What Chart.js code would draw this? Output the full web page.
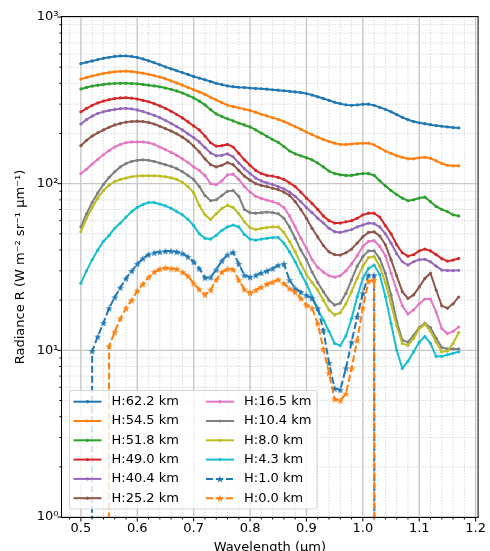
<!DOCTYPE html>
<html>
<head>
<meta charset="utf-8">
<script src="https://cdn.jsdelivr.net/npm/chart.js@4.4.1/dist/chart.umd.min.js"></script>
<style>
  html, body { margin: 0; padding: 0; background: #fff; }
</style>
</head>
<body>
<canvas id="myChart" width="490" height="551"></canvas>
<script>
(() => {

  // values below the axis: matplotlib clips them, the line drops straight down
  const CLIP = 1e-30;

  const wavelengths = [
    0.50, 0.51, 0.52, 0.53, 0.54, 0.55, 0.56, 0.57, 0.58, 0.59,
    0.60, 0.61, 0.62, 0.63, 0.64, 0.65, 0.66, 0.67, 0.68, 0.69,
    0.70, 0.71, 0.72, 0.73, 0.74, 0.75, 0.76, 0.77, 0.78, 0.79,
    0.80, 0.81, 0.82, 0.83, 0.84, 0.85, 0.86, 0.87, 0.88, 0.89,
    0.90, 0.91, 0.92, 0.93, 0.94, 0.95, 0.96, 0.97, 0.98, 0.99,
    1.00, 1.01, 1.02, 1.03, 1.04, 1.05, 1.06, 1.07, 1.08, 1.09,
    1.10, 1.11, 1.12, 1.13, 1.14, 1.15, 1.16, 1.17
  ];

  const heightLabels = ['H:62.2 km', 'H:54.5 km', 'H:51.8 km', 'H:49.0 km', 'H:40.4 km', 'H:25.2 km',
    'H:16.5 km', 'H:10.4 km', 'H:8.0 km', 'H:4.3 km', 'H:1.0 km', 'H:0.0 km'];

  const rad62_2 = [
    525, 535, 545, 555, 565, 573, 580, 584, 584, 580,
    572, 560, 546, 532, 517, 502, 489, 476, 464, 452,
    440, 430, 420, 410, 400, 393, 386, 382, 379, 377,
    375, 373, 371, 369, 366, 364, 361, 358, 355, 352,
    347, 340, 332, 324, 316, 308, 302, 297, 295, 297,
    300, 300, 295, 287, 279, 270, 260, 250, 242, 236,
    232, 229, 226, 223, 221, 219, 217, 216
  ];
  const rad54_5 = [
    424, 434, 443, 451, 458, 464, 469, 472, 473, 471,
    466, 460, 453, 445, 436, 426, 414, 402, 390, 378,
    366, 355, 343, 330, 318, 306, 296, 290, 285, 280,
    275, 268, 261, 255, 249, 243, 236, 228, 220, 212,
    204, 197, 190, 184, 179, 175, 172, 172, 173, 174,
    175, 175, 171, 164, 157, 152, 147, 144, 141, 141,
    143, 144, 142, 137, 132, 129, 128, 128
  ];
  const rad51_8 = [
    370, 378, 385, 390, 394, 397, 399, 400, 400, 399,
    397, 394, 390, 386, 381, 375, 368, 360, 350, 339,
    327, 313, 297, 278, 262, 253, 245, 238, 231, 225,
    219, 210, 201, 192, 184, 177, 167, 157, 151, 147,
    143, 139, 133, 126, 119, 115, 113, 112, 112, 114,
    115, 115, 112, 104, 97, 91, 86, 82, 79, 80,
    82, 83, 78, 73, 70, 68, 65, 64
  ];
  const rad49_0 = [
    270, 283, 295, 305, 313, 319, 324, 327, 328, 326,
    322, 316, 310, 302, 293, 283, 272, 260, 248, 235,
    222, 210, 193, 176, 168, 169, 172, 166, 152, 139,
    129, 120, 115, 112, 111, 109, 106, 101, 96, 89,
    82, 76, 70, 64, 60, 58, 58, 59, 60, 62,
    65, 66.5, 66.5, 63, 56, 50, 43, 38.5, 36.7, 37.5,
    39.5, 40.5, 39.5, 37.5, 35.5, 34.3, 34.8, 35.6
  ];
  const rad40_4 = [
    228, 242, 254, 264, 270, 275, 279, 282, 283, 281,
    277, 271, 264, 257, 249, 240, 230, 220, 210, 199,
    189, 178, 165, 153, 147, 148, 151, 145, 133, 123,
    115, 108, 104, 101, 99, 96, 93, 89, 84, 78,
    72, 67, 62, 58, 54, 51.5, 51, 52, 53, 55,
    56.5, 58, 57.5, 55, 50, 44, 38, 34, 32.5, 34,
    35, 35.2, 34, 32, 30.3, 30.1, 30.1, 30.2
  ];
  const rad25_2 = [
    169, 182, 193, 202, 210, 218, 225, 230, 234, 236,
    237, 236, 233, 228, 221, 214, 207, 199, 190, 180,
    168, 155, 141, 130, 126, 129, 134, 130, 120, 111,
    105, 100, 97.5, 96, 94, 92, 89, 85, 78, 70,
    62, 54, 47.9, 42.5, 39, 37.5, 37.3, 38.5, 40.5, 44,
    48, 51, 51.4, 48.5, 43, 35, 28, 22.5, 20.5, 21.5,
    24, 27, 29, 23, 18.5, 17.9, 19, 20.9
  ];
  const rad16_5 = [
    115, 122, 131, 140, 149, 158, 166, 172, 176, 178,
    178, 178, 176, 172, 166, 160, 154, 148, 141, 134,
    126, 120, 112, 100, 98.5, 104, 113, 114, 106, 96,
    89, 84, 81.5, 79.5, 78, 76, 72, 64, 55, 47,
    41, 35, 31.5, 29.5, 28, 27.5, 28, 30, 33, 37,
    42, 45, 45.5, 42, 37, 29, 23, 18.5, 16.5, 17.5,
    19, 20.3, 20.3, 17, 13.5, 12.6, 13, 13.8
  ];
  const rad10_4 = [
    55, 66, 77, 88, 99, 109, 118, 126, 132, 136,
    138, 139, 138, 136, 133, 130, 127, 123, 118, 112,
    106, 96, 85, 79, 80, 85, 90, 91, 84, 70,
    67, 66.5, 67, 67.5, 67, 66, 62, 55, 47, 40,
    35, 29.5, 25.5, 22.5, 20, 18.7, 19.2, 22, 26.5, 32,
    36.5, 39.5, 39.5, 35.5, 29, 21.5, 15, 11.5, 11.2, 12.3,
    13.7, 14.5, 13.7, 11.8, 10.4, 10.2, 10.2, 10.2
  ];
  const rad8_0 = [
    51.5, 62, 72, 82, 91, 98, 103, 106, 108, 110,
    111, 111.5, 111.5, 111.5, 111, 110, 108.5, 106, 102, 96,
    88, 74, 65, 61, 66, 71, 74, 72, 66, 59,
    54.5, 53, 54, 54.5, 55, 55, 51, 45, 39, 33,
    28.5, 25.5, 23, 20, 17.5, 16.3, 16.8, 19, 22.5, 27,
    32, 36, 36.5, 32, 25.5, 19, 14, 11, 10.7, 11.8,
    13.5, 14.3, 13, 11.2, 9.8, 9.9, 11, 12.8
  ];
  const rad4_3 = [
    25.3, 30, 35, 40, 45, 49, 54, 58, 63, 68,
    72, 75, 77, 77, 75.5, 73.5, 71, 68, 65, 61,
    56, 50, 47, 46.5, 49, 52.5, 55, 56.5, 55, 49.5,
    46.5, 45.8, 46.5, 47, 47.5, 47.5, 44, 39, 34, 29,
    25, 21, 17.5, 15.2, 13, 11, 10.7, 12.2, 15.5, 21,
    27, 31, 32.5, 28.5, 21, 14.5, 10, 7.8, 8.6, 9.8,
    11.2, 12.1, 11, 9.2, 9.2, 9.4, 9.6, 9.8
  ];
  const rad1_0 = [
    CLIP, CLIP, 9.9, 12.1, 14.6, 17.9, 20.8, 23.8, 27, 29.9,
    33, 35.6, 37.6, 38.5, 39, 39.4, 39.4, 39, 38.2, 36.4,
    34, 31, 27.3, 27.4, 30.5, 34.5, 37.5, 38.8, 33, 28.2,
    27.5, 28.2, 29.2, 30, 31, 32.4, 33, 26.4, 23.5, 22.4,
    21.4, 20.5, 17.9, 13.2, 8.4, 5.9, 5.8, 7.8, 11.2, 15.9,
    22, 28.2, 28.2, CLIP, CLIP, CLIP, CLIP, CLIP, CLIP, CLIP,
    CLIP, CLIP, CLIP, CLIP, CLIP, CLIP, CLIP, CLIP
  ];
  const rad0_0 = [
    CLIP, CLIP, CLIP, CLIP, CLIP, 10.6, 12.9, 15.5, 17.9, 20,
    22.8, 25, 27.4, 29.5, 30.8, 31.3, 31, 30.8, 29.5, 27.9,
    25.2, 23.2, 21.6, 23, 26.5, 29.5, 30.8, 30.6, 26.4, 23.2,
    22.1, 23, 24, 25, 25.7, 26.6, 25.2, 23.5, 22.3, 20.5,
    18.7, 17.9, 14.5, 10.2, 7.3, 5.1, 5.0, 5.5, 7.8, 11.5,
    18, 26, 26.4, CLIP, CLIP, CLIP, CLIP, CLIP, CLIP, CLIP,
    CLIP, CLIP, CLIP, CLIP, CLIP, CLIP, CLIP, CLIP
  ];

  const xTicks = [0.5, 0.6, 0.7, 0.8, 0.9, 1.0, 1.1, 1.2];
  const xTickLabels = ['0.5', '0.6', '0.7', '0.8', '0.9', '1.0', '1.1', '1.2'];
  const yTicks = [1, 10, 100, 1000];
  const yTickLabels = ['10\u2070', '10\u00B9', '10\u00B2', '10\u00B3'];

  const series = [rad62_2, rad54_5, rad51_8, rad49_0, rad40_4, rad25_2,
    rad16_5, rad10_4, rad8_0, rad4_3, rad1_0, rad0_0];
  const colors = ['#1f77b4', '#ff7f0e', '#2ca02c', '#d62728', '#9467bd', '#8c564b',
    '#e377c2', '#7f7f7f', '#bcbd22', '#17becf', '#1f77b4', '#ff7f0e'];
  const dashed = [false, false, false, false, false, false, false, false, false, false, true, true];

  const FONT = 'DejaVu Sans';
  Chart.defaults.font.family = FONT;
  Chart.defaults.font.size = 13;
  Chart.defaults.color = '#000';

  // filled five point star, like matplotlib's '*' marker
  const makeStar = (color) => {
    const c = document.createElement('canvas');
    c.width = 10; c.height = 10;
    const g = c.getContext('2d');
    g.fillStyle = color;
    g.beginPath();
    for (let i = 0; i < 10; i++) {
      const r = i % 2 ? 1.5 : 3.9;
      const a = -Math.PI / 2 + i * Math.PI / 5;
      const px = 5 + r * Math.cos(a), py = 5.4 + r * Math.sin(a);
      if (i) g.lineTo(px, py); else g.moveTo(px, py);
    }
    g.closePath();
    g.fill();
    return c;
  };

  const datasets = series.map((vals, i) => ({
    label: heightLabels[i],
    data: vals.map((v, j) => ({ x: wavelengths[j], y: v })),
    borderColor: colors[i],
    backgroundColor: colors[i],
    borderWidth: 2,
    borderDash: dashed[i] ? [7, 3] : [],
    pointStyle: dashed[i] ? makeStar(colors[i]) : 'circle',
    pointRadius: dashed[i] ? 4 : 1.6,
    pointBorderWidth: 0,
    pointBackgroundColor: colors[i],
    order: series.length - i,
    clip: 0
  }));

  // minor tick positions
  const xMinor = [];
  for (let k = 24; k <= 60; k++) if (k % 5) xMinor.push(k / 50);
  const yMinor = [];
  [1, 10, 100].forEach(d => { for (let m = 2; m <= 9; m++) yMinor.push(m * d); });

  const axesDecor = {
    id: 'axesDecor',
    beforeDatasetsDraw(chart) {
      const { ctx, chartArea: a, scales: { x, y } } = chart;
      ctx.save();
      ctx.lineWidth = 0.8;
      ctx.strokeStyle = '#cfcfcf';
      ctx.setLineDash([1.5, 1.5]);
      ctx.beginPath();
      xMinor.forEach(v => { const p = x.getPixelForValue(v); ctx.moveTo(p, a.top); ctx.lineTo(p, a.bottom); });
      yMinor.forEach(v => { const p = y.getPixelForValue(v); ctx.moveTo(a.left, p); ctx.lineTo(a.right, p); });
      ctx.stroke();
      ctx.setLineDash([]);
      ctx.lineWidth = 1.4;
      ctx.strokeStyle = '#c8c8c8';
      ctx.beginPath();
      xTicks.forEach(v => { const p = x.getPixelForValue(v); ctx.moveTo(p, a.top); ctx.lineTo(p, a.bottom); });
      yTicks.forEach(v => { const p = y.getPixelForValue(v); ctx.moveTo(a.left, p); ctx.lineTo(a.right, p); });
      ctx.stroke();
      ctx.restore();
    },
    afterDatasetsDraw(chart) {
      const { ctx, chartArea: a, scales: { x, y } } = chart;
      ctx.save();
      ctx.strokeStyle = '#000';
      ctx.lineWidth = 1;
      ctx.strokeRect(a.left - 0.5, a.top - 0.5, a.right - a.left + 1, a.bottom - a.top + 1);
      ctx.beginPath();
      xTicks.forEach(v => { const p = x.getPixelForValue(v); ctx.moveTo(p, a.bottom); ctx.lineTo(p, a.bottom + 4.5); });
      xMinor.forEach(v => { const p = x.getPixelForValue(v); ctx.moveTo(p, a.bottom); ctx.lineTo(p, a.bottom + 2.5); });
      yTicks.forEach(v => { const p = y.getPixelForValue(v); ctx.moveTo(a.left, p); ctx.lineTo(a.left - 4.5, p); });
      yMinor.forEach(v => { const p = y.getPixelForValue(v); ctx.moveTo(a.left, p); ctx.lineTo(a.left - 2.5, p); });
      ctx.stroke();
      ctx.restore();
    },
    afterDraw(chart) {
      // two column legend, lower left, filled column by column
      const ctx = chart.ctx;
      const bx = 69.5, by = 390.5, bw = 247.5, bh = 118.5, r = 3;
      ctx.save();
      ctx.beginPath();
      ctx.moveTo(bx + r, by);
      ctx.arcTo(bx + bw, by, bx + bw, by + bh, r);
      ctx.arcTo(bx + bw, by + bh, bx, by + bh, r);
      ctx.arcTo(bx, by + bh, bx, by, r);
      ctx.arcTo(bx, by, bx + bw, by, r);
      ctx.closePath();
      ctx.fillStyle = 'rgba(255,255,255,0.8)';
      ctx.fill();
      ctx.strokeStyle = 'rgba(204,204,204,0.8)';
      ctx.lineWidth = 1;
      ctx.stroke();
      ctx.font = '13px "' + FONT + '"';
      ctx.textBaseline = 'middle';
      chart.data.datasets.forEach((ds, i) => {
        const col = Math.floor(i / 6), row = i % 6;
        const x0 = col ? 206 : 73.5;
        const yc = 401.7 + row * 19.3;
        ctx.strokeStyle = ds.borderColor;
        ctx.lineWidth = 2;
        ctx.setLineDash(ds.borderDash);
        ctx.beginPath();
        ctx.moveTo(x0, yc);
        ctx.lineTo(x0 + 28, yc);
        ctx.stroke();
        ctx.setLineDash([]);
        if (dashed[i]) {
          ctx.drawImage(ds.pointStyle, x0 + 14 - 5, yc - 5);
        } else {
          ctx.fillStyle = ds.borderColor;
          ctx.beginPath();
          ctx.arc(x0 + 14, yc, 1.6, 0, Math.PI * 2);
          ctx.fill();
        }
        ctx.fillStyle = '#000';
        ctx.fillText(ds.label, x0 + 38, yc);
      });
      ctx.restore();
    }
  };

  const ctx = document.getElementById('myChart');
  const myChart = new Chart(ctx, {
    type: 'line',
    data: { datasets },
    options: {
      responsive: false,
      animation: false,
      devicePixelRatio: 1,
      layout: { padding: { left: 0, right: 8, top: 17, bottom: 0 } },
      plugins: { legend: { display: false }, tooltip: { enabled: false } },
      scales: {
        x: {
          type: 'linear',
          min: 0.4665,
          max: 1.2035,
          afterFit: (s) => { s.height = 34; },
          afterBuildTicks: (s) => { s.ticks = xTicks.map(v => ({ value: v })); },
          grid: { display: false, drawTicks: false },
          border: { display: false },
          ticks: {
            autoSkip: false,
            maxRotation: 0,
            padding: 4,
            callback: (v) => xTickLabels[xTicks.indexOf(v)]
          },
          title: {
            display: true,
            text: 'Wavelength (\u03bcm)',
            font: { size: 13 },
            padding: { top: 0, bottom: -4 }
          }
        },
        y: {
          type: 'logarithmic',
          min: 1,
          max: 1000,
          afterFit: (s) => { s.width = 62; },
          afterBuildTicks: (s) => { s.ticks = yTicks.map(v => ({ value: v })); },
          grid: { display: false, drawTicks: false },
          border: { display: false },
          ticks: {
            padding: 3.5,
            callback: (v) => yTickLabels[yTicks.indexOf(v)]
          },
          title: {
            display: true,
            text: 'Radiance R (W m\u207b\u00b2 sr\u207b\u00b9 \u03bcm\u207b\u00b9)',
            font: { size: 13 },
            padding: { top: 13.2, bottom: 0 }
          }
        }
      }
    },
    plugins: [axesDecor]
  });

})();
</script>
</body>
</html>
